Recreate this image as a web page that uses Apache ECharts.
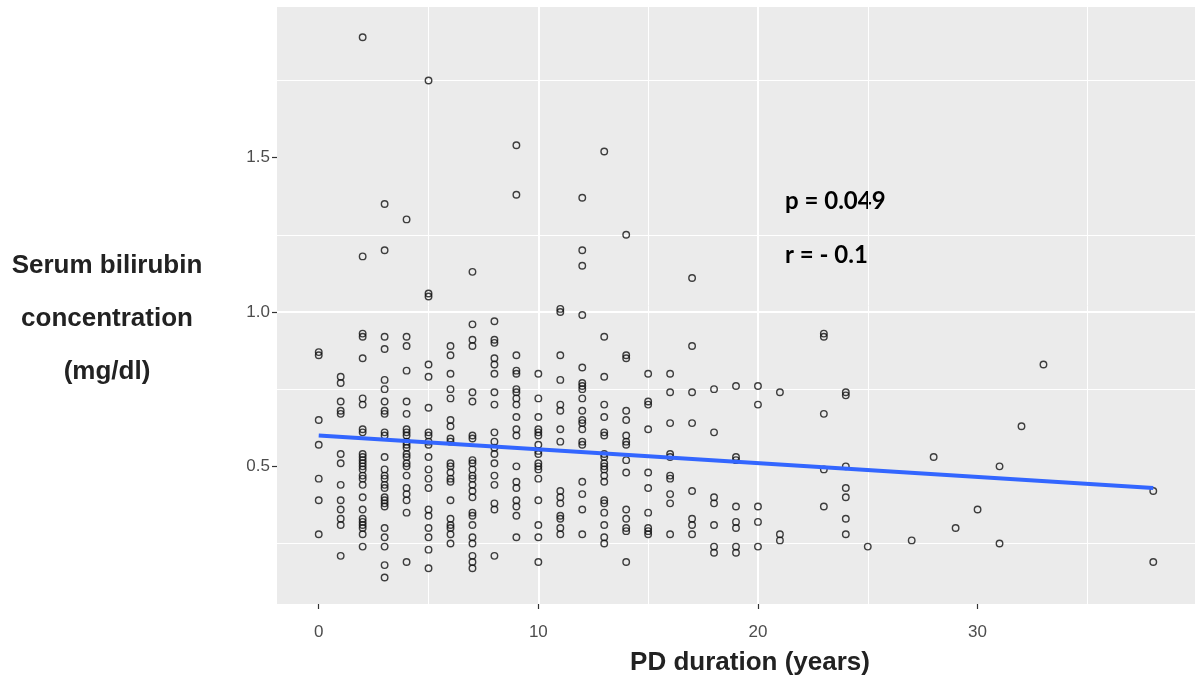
<!DOCTYPE html>
<html>
<head>
<meta charset="utf-8">
<script src="https://cdn.jsdelivr.net/npm/echarts@6/dist/echarts.min.js"></script>
<style>
  html, body { margin: 0; padding: 0; background: #fff; }
  #chart { width: 1195px; height: 683px; }
</style>
</head>
<body>
<div id="chart"></div>
<script>
// PD duration (years) and the bilirubin readings (mg/dl) seen at each duration
const durationYears = [0, 1, 2, 3, 4, 5, 6, 7, 8, 9, 10, 11, 12, 13, 14, 15, 16, 17, 18, 19, 20, 21, 23, 24, 25, 27, 28, 29, 30, 31, 32, 33, 38]
const bilirubin = [
  [0.87, 0.86, 0.65, 0.57, 0.46, 0.39, 0.28],
  [0.79, 0.77, 0.71, 0.68, 0.67, 0.54, 0.51, 0.44, 0.39, 0.36, 0.33, 0.31, 0.21],
  [1.89, 1.18, 0.93, 0.92, 0.85, 0.72, 0.70, 0.62, 0.61, 0.54, 0.53, 0.52, 0.51, 0.50, 0.49, 0.47, 0.46, 0.44, 0.40, 0.36, 0.33, 0.32, 0.31, 0.30, 0.28, 0.24],
  [1.35, 1.20, 0.92, 0.88, 0.78, 0.75, 0.71, 0.68, 0.67, 0.61, 0.60, 0.53, 0.49, 0.47, 0.46, 0.44, 0.43, 0.40, 0.39, 0.38, 0.37, 0.30, 0.27, 0.24, 0.18, 0.14],
  [1.30, 0.92, 0.89, 0.81, 0.71, 0.67, 0.62, 0.61, 0.60, 0.58, 0.57, 0.56, 0.54, 0.53, 0.51, 0.50, 0.47, 0.43, 0.41, 0.39, 0.35, 0.19],
  [1.75, 1.06, 1.05, 0.83, 0.79, 0.69, 0.61, 0.60, 0.58, 0.57, 0.53, 0.49, 0.46, 0.43, 0.36, 0.34, 0.30, 0.27, 0.23, 0.17],
  [0.89, 0.86, 0.80, 0.75, 0.72, 0.65, 0.63, 0.59, 0.58, 0.51, 0.50, 0.48, 0.46, 0.45, 0.39, 0.33, 0.31, 0.30, 0.28, 0.25],
  [1.13, 0.96, 0.91, 0.89, 0.74, 0.71, 0.60, 0.59, 0.52, 0.51, 0.49, 0.47, 0.46, 0.44, 0.42, 0.40, 0.35, 0.34, 0.31, 0.27, 0.25, 0.21, 0.19, 0.17],
  [0.97, 0.91, 0.90, 0.85, 0.83, 0.80, 0.74, 0.70, 0.61, 0.58, 0.56, 0.54, 0.51, 0.47, 0.44, 0.38, 0.36, 0.21],
  [1.54, 1.38, 0.86, 0.81, 0.80, 0.75, 0.74, 0.72, 0.70, 0.66, 0.62, 0.60, 0.50, 0.45, 0.43, 0.39, 0.37, 0.34, 0.27],
  [0.80, 0.72, 0.66, 0.62, 0.61, 0.60, 0.57, 0.55, 0.54, 0.51, 0.50, 0.49, 0.46, 0.39, 0.31, 0.27, 0.19],
  [1.01, 1.00, 0.86, 0.78, 0.70, 0.68, 0.62, 0.58, 0.42, 0.40, 0.38, 0.34, 0.33, 0.30, 0.28],
  [1.37, 1.20, 1.15, 0.99, 0.82, 0.77, 0.76, 0.75, 0.72, 0.68, 0.65, 0.64, 0.62, 0.58, 0.57, 0.45, 0.41, 0.36, 0.28],
  [1.52, 0.92, 0.79, 0.70, 0.66, 0.61, 0.60, 0.54, 0.53, 0.51, 0.50, 0.49, 0.47, 0.45, 0.39, 0.38, 0.35, 0.31, 0.27, 0.25],
  [1.25, 0.86, 0.85, 0.68, 0.65, 0.60, 0.58, 0.57, 0.52, 0.48, 0.36, 0.33, 0.30, 0.29, 0.19],
  [0.80, 0.71, 0.70, 0.62, 0.48, 0.43, 0.35, 0.30, 0.29, 0.28],
  [0.80, 0.74, 0.64, 0.54, 0.53, 0.47, 0.46, 0.41, 0.38, 0.28],
  [1.11, 0.89, 0.74, 0.64, 0.42, 0.33, 0.31, 0.28],
  [0.75, 0.61, 0.40, 0.38, 0.31, 0.24, 0.22],
  [0.76, 0.53, 0.52, 0.37, 0.32, 0.30, 0.24, 0.22],
  [0.76, 0.70, 0.37, 0.32, 0.24],
  [0.74, 0.28, 0.26],
  [0.93, 0.92, 0.67, 0.49, 0.37],
  [0.74, 0.73, 0.50, 0.43, 0.40, 0.33, 0.28],
  [0.24],
  [0.26],
  [0.53],
  [0.30],
  [0.36],
  [0.50, 0.25],
  [0.63],
  [0.83],
  [0.42, 0.19]
]

// linear fit (ends of the blue line)
const fitX = [0, 38]
const fitY = [0.60, 0.43]

const xTicks = [0, 10, 20, 30]
const yTicks = [0.5, 1.0, 1.5]

const points = []
durationYears.forEach((yr, i) => {
  bilirubin[i].forEach(v => points.push([yr, v]))
})

const panelBg = '#EBEBEB'
const tickColor = '#4D4D4D'

const chart = echarts.init(document.getElementById('chart'), null, { renderer: 'canvas' })

chart.setOption({
  animation: false,
  backgroundColor: '#fff',
  grid: {
    left: 277, top: 7, right: -4, bottom: 79,
    show: true, backgroundColor: panelBg, borderWidth: 0
  },
  xAxis: {
    type: 'value',
    min: -1.9, max: 39.9,
    splitNumber: 4,
    axisLine: { show: false, onZero: false },
    axisTick: { show: true, length: 5, customValues: xTicks, lineStyle: { color: '#333', width: 1.2 } },
    axisLabel: {
      customValues: xTicks,
      color: tickColor, fontSize: 17, fontFamily: 'Liberation Sans', margin: 20
    },
    splitLine: { show: true, showMinLine: false, showMaxLine: false, lineStyle: { color: '#fff', width: 2 } },
    minorTick: { show: false, splitNumber: 2 },
    minorSplitLine: { show: true, lineStyle: { color: '#fff', width: 1 } }
  },
  yAxis: {
    type: 'value',
    min: 0.054, max: 1.988,
    splitNumber: 4,
    axisLine: { show: false, onZero: false },
    axisTick: { show: true, length: 5, customValues: yTicks, lineStyle: { color: '#333', width: 1.2 } },
    axisLabel: {
      customValues: yTicks,
      color: tickColor, fontSize: 17, fontFamily: 'Liberation Sans', margin: 7,
      formatter: v => v.toFixed(1)
    },
    splitLine: { show: true, showMinLine: false, showMaxLine: false, lineStyle: { color: '#fff', width: 2 } },
    minorTick: { show: false, splitNumber: 2 },
    minorSplitLine: { show: true, lineStyle: { color: '#fff', width: 1 } }
  },
  series: [
    {
      type: 'scatter',
      data: points,
      symbol: 'circle',
      symbolSize: 6.5,
      itemStyle: { color: 'rgba(0,0,0,0)', borderColor: '#111', borderWidth: 1.4 },
      z: 2
    },
    {
      type: 'line',
      data: fitX.map((x, i) => [x, fitY[i]]),
      showSymbol: false,
      lineStyle: { color: '#3366FF', width: 4 },
      z: 3
    }
  ],
  graphic: [
    {
      type: 'text', x: 107, y: 319,
      style: {
        text: 'Serum bilirubin\nconcentration\n(mg/dl)',
        align: 'center', verticalAlign: 'middle', lineHeight: 53,
        fontFamily: 'Liberation Sans', fontWeight: 'bold', fontSize: 26, fill: '#222'
      }
    },
    {
      type: 'text', x: 750, y: 663,
      style: {
        text: 'PD duration (years)', align: 'center', verticalAlign: 'middle',
        fontFamily: 'Liberation Sans', fontWeight: 'bold', fontSize: 26, fill: '#222'
      }
    },
    {
      type: 'text', x: 785, y: 201,
      style: {
        text: 'p = 0.049', align: 'left', verticalAlign: 'middle',
        fontFamily: 'Lato', fontWeight: 'bold', fontSize: 24, fill: '#000'
      }
    },
    {
      type: 'text', x: 785, y: 255,
      style: {
        text: 'r = - 0.1', align: 'left', verticalAlign: 'middle',
        fontFamily: 'Lato', fontWeight: 'bold', fontSize: 24, fill: '#000'
      }
    }
  ]
})
</script>
</body>
</html>
